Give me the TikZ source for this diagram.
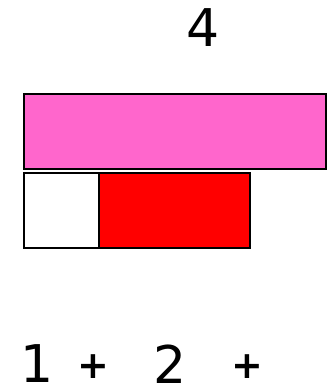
\documentclass[tikz,border=0pt]{standalone}
\usepackage{fontspec}
\setmainfont{DejaVu Sans}
\definecolor{pinkbar}{HTML}{FF66CC}
\definecolor{redbar}{HTML}{FF0000}
\begin{document}
\begin{tikzpicture}[x=1pt,y=-1pt,
  bar/.style={draw=black,line width=2pt,inner sep=0pt,outer sep=0pt,rectangle},
  num/.style={inner sep=0pt,anchor=center,font=\fontsize{52}{52}\selectfont},
  op/.style={inner sep=0pt,anchor=center,font=\fontsize{38}{38}\selectfont\bfseries}]
\useasboundingbox (0,0) rectangle (333,392);
\node[bar,fill=pinkbar,minimum width=302.5pt,minimum height=75pt] (whole) at (174.75,131.5) {};
\node[bar,fill=white,minimum width=75.5pt,minimum height=75pt] (one) at (61.25,210.5) {};
\node[bar,fill=redbar,minimum width=151pt,minimum height=75pt] (two) at (174.5,210.5) {};
\node[num] (four) at (203,27.5) {4};
\node[num] (n1) at (37.5,364) {1};
\node[op] (p1) at (93,366.5) {+};
\node[num] (n2) at (170.5,364) {2};
\node[op] (p2) at (247,366.5) {+};
\end{tikzpicture}
\end{document}
